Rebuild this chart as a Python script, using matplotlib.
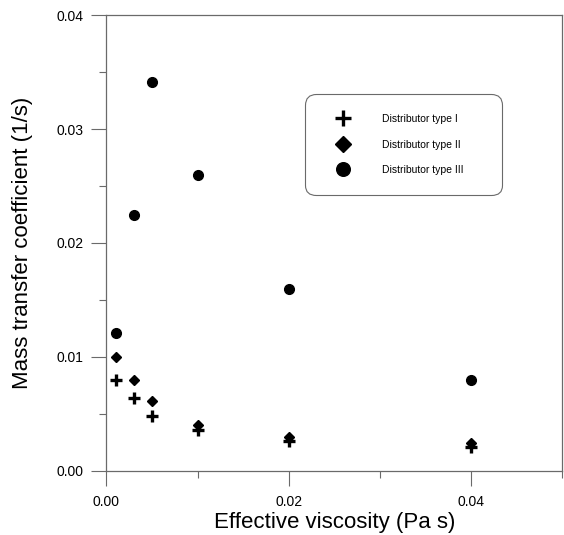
import matplotlib.pyplot as plt
from matplotlib.ticker import MultipleLocator, FormatStrFormatter

plt.rcParams['font.family'] = ['Liberation Sans', 'DejaVu Sans']

# effective viscosity (Pa s)
visc = [0.001, 0.003, 0.005, 0.01, 0.02, 0.04]
# mass transfer coefficient (1/s) per distributor type
kla_type1 = [0.0080, 0.0064, 0.0048, 0.0036, 0.0026, 0.0021]
kla_type2 = [0.0100, 0.0080, 0.0061, 0.0040, 0.0030, 0.0024]
kla_type3 = [0.0121, 0.0225, 0.0341, 0.0260, 0.0160, 0.0080]
labels = ['Distributor type I', 'Distributor type II', 'Distributor type III']

axcol = '#6a6a6a'

fig = plt.figure(figsize=(5.64, 5.35), dpi=100)
ax = fig.add_axes([0.1888, 0.1202, 0.8077, 0.8512])

ax.plot(visc, kla_type1, ls='none', marker='+', ms=8, mew=2.4, color='black', label=labels[0])
ax.plot(visc, kla_type2, ls='none', marker='D', ms=5.5, color='black', label=labels[1])
ax.plot(visc, kla_type3, ls='none', marker='o', ms=7, color='black', label=labels[2])

ax.set_xlim(0, 0.05)
ax.set_ylim(0, 0.04)
ax.xaxis.set_major_locator(MultipleLocator(0.02))
ax.xaxis.set_minor_locator(MultipleLocator(0.01))
ax.yaxis.set_major_locator(MultipleLocator(0.01))
ax.yaxis.set_minor_locator(MultipleLocator(0.005))
ax.xaxis.set_major_formatter(FormatStrFormatter('%.2f'))
ax.yaxis.set_major_formatter(FormatStrFormatter('%.2f'))

for s in ax.spines.values():
    s.set_color(axcol)
    s.set_linewidth(0.9)
ax.tick_params(which='major', direction='out', length=10.5, width=0.8, color=axcol, labelsize=10)
ax.tick_params(which='minor', direction='out', length=5, width=0.8, color=axcol)
ax.tick_params(axis='x', pad=7)
ax.tick_params(axis='y', pad=6)

ax.set_xlabel('Effective viscosity (Pa s)', fontsize=16, labelpad=2)
ax.set_ylabel('Mass transfer coefficient (1/s)', fontsize=16, labelpad=17)

leg = ax.legend(loc='upper left', bbox_to_anchor=(0.436, 0.603, 0.432, 0.224), mode='expand',
                fontsize=7.5, markerscale=1.4, borderaxespad=0, borderpad=1.9,
                labelspacing=1.5, handlelength=3.5, handletextpad=2.0,
                fancybox=True, framealpha=1)
frame = leg.get_frame()
frame.set_edgecolor(axcol)
frame.set_linewidth(0.8)
frame.set_boxstyle('round,pad=0,rounding_size=1.0')

fig.savefig('out.png', dpi=100)
